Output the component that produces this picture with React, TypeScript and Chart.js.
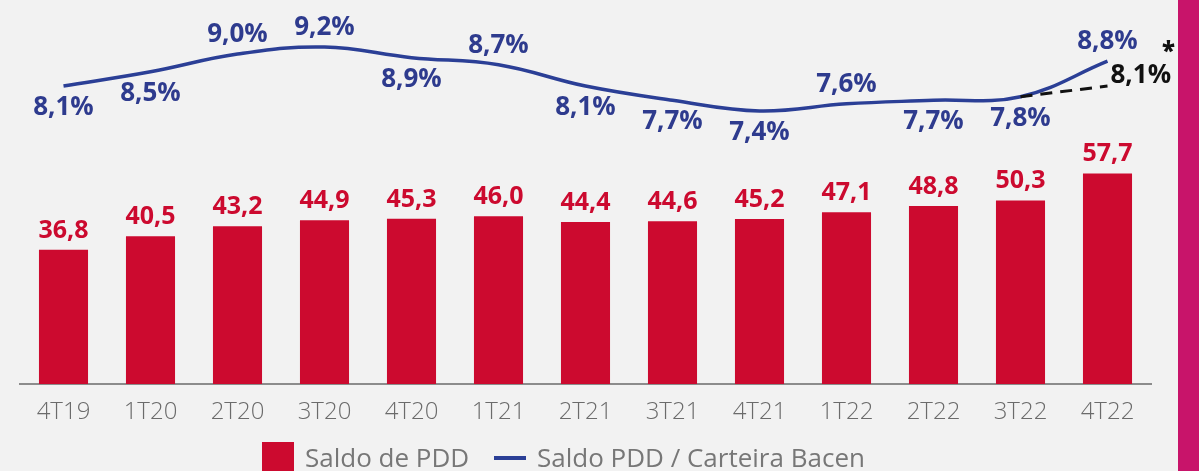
import React, { useEffect, useRef } from 'react';
import { Chart, registerables } from 'chart.js';

Chart.register(...registerables);

const categories = ['4T19', '1T20', '2T20', '3T20', '4T20', '1T21', '2T21', '3T21', '4T21', '1T22', '2T22', '3T22', '4T22'];
const saldoPDD = [36.8, 40.5, 43.2, 44.9, 45.3, 46.0, 44.4, 44.6, 45.2, 47.1, 48.8, 50.3, 57.7];
const ratioPDD = [8.1, 8.5, 9.0, 9.2, 8.9, 8.7, 8.1, 7.7, 7.4, 7.6, 7.7, 7.8, 8.8];
const ratioAdjusted = [null, null, null, null, null, null, null, null, null, null, null, 7.8, 8.1];
const ratioLabelSide = ['below', 'below', 'above', 'above', 'below', 'above', 'below', 'below', 'below', 'above', 'below', 'below', 'above'];
const legendLabels = ['Saldo de PDD', 'Saldo PDD / Carteira Bacen'];
const adjustedNote = '*';

const RED = '#cc0a2f';
const BLUE = '#2b3f96';
const BLUE_TEXT = '#2e3b8e';
const GRAY_TEXT = '#6b6b6b';
const BG = '#f2f2f2';
const MAGENTA = '#c8146a';

const fmt = (v: number) => v.toFixed(1).replace('.', ',');

const labelsPlugin = {
  id: 'customLabels',
  afterDatasetsDraw(chart: any) {
    const ctx = chart.ctx;
    ctx.save();
    const barMeta = chart.getDatasetMeta(0);
    ctx.font = '700 25px "Open Sans"';
    ctx.fillStyle = RED;
    ctx.textAlign = 'center';
    ctx.textBaseline = 'alphabetic';
    barMeta.data.forEach((el: any, i: number) => {
      ctx.fillText(fmt(saldoPDD[i]), el.x, el.y - 12);
    });
    const lineMeta = chart.getDatasetMeta(1);
    ctx.font = '700 26px "Open Sans"';
    ctx.fillStyle = BLUE_TEXT;
    lineMeta.data.forEach((el: any, i: number) => {
      const dy = ratioLabelSide[i] === 'above' ? -12 : 29;
      ctx.fillText(fmt(ratioPDD[i]) + '%', el.x, el.y + dy);
    });
    const adjMeta = chart.getDatasetMeta(2);
    const last = adjMeta.data[adjMeta.data.length - 1];
    const lastVal = ratioAdjusted[ratioAdjusted.length - 1] as number;
    ctx.fillStyle = '#111111';
    ctx.textAlign = 'left';
    ctx.fillText(fmt(lastVal) + '%', last.x + 3, last.y - 3);
    ctx.font = '800 24px "Open Sans"';
    ctx.textAlign = 'center';
    ctx.fillText(adjustedNote, last.x + 61, last.y - 27);
    ctx.restore();
  },
  afterDraw(chart: any) {
    const ctx = chart.ctx;
    ctx.save();
    ctx.fillStyle = RED;
    ctx.fillRect(262, 442, 32, 40);
    ctx.font = '400 26px "Open Sans"';
    ctx.fillStyle = '#777777';
    ctx.textAlign = 'left';
    ctx.textBaseline = 'alphabetic';
    ctx.fillText(legendLabels[0], 305, 467);
    ctx.strokeStyle = BLUE;
    ctx.lineWidth = 4;
    ctx.beginPath();
    ctx.moveTo(494, 458);
    ctx.lineTo(526, 458);
    ctx.stroke();
    ctx.fillText(legendLabels[1], 537, 467);
    ctx.restore();
  },
};

export default function App() {
  const ref = useRef<HTMLCanvasElement>(null);
  useEffect(() => {
    if (!ref.current) return;
    const chart = new Chart(ref.current, {
      type: 'bar',
      data: {
        labels: categories,
        datasets: [
          {
            type: 'bar',
            data: saldoPDD,
            backgroundColor: RED,
            yAxisID: 'y',
            order: 2,
            barPercentage: 0.564,
            categoryPercentage: 1,
          },
          {
            type: 'line',
            data: ratioPDD,
            borderColor: BLUE,
            borderWidth: 3.5,
            pointRadius: 0,
            tension: 0.4,
            yAxisID: 'y2',
            order: 1,
          },
          {
            type: 'line',
            data: ratioAdjusted,
            borderColor: '#111111',
            borderDash: [12, 8],
            borderWidth: 3,
            pointRadius: 0,
            tension: 0,
            yAxisID: 'y2',
            order: 0,
          },
        ] as any,
      },
      options: {
        responsive: false,
        animation: false,
        devicePixelRatio: 1,
        layout: { padding: { top: 10, left: 20, right: 27, bottom: 0 } },
        plugins: { legend: { display: false }, tooltip: { enabled: false } },
        scales: {
          x: {
            grid: { display: false, drawTicks: false },
            border: { display: true, color: '#8c8c8c', width: 2 },
            ticks: { color: GRAY_TEXT, font: { family: 'Open Sans', size: 24, weight: '300' }, padding: 14 },
            afterFit(s: any) { s.height = 87; },
          },
          y: { display: false, min: 0, max: 102.5 },
          y2: { display: false, min: -0.293, max: 10.242 },
        },
      } as any,
      plugins: [labelsPlugin],
    });
    return () => chart.destroy();
  }, []);
  return (
    <div style={{ position: 'absolute', left: 0, top: 0, width: 1199, height: 471, background: BG, overflow: 'hidden' }}>
      <canvas ref={ref} width={1178} height={471} style={{ position: 'absolute', left: 0, top: 0, width: 1178, height: 471 }} />
      <div style={{ position: 'absolute', left: 1178, top: 0, width: 21, height: 471, background: MAGENTA }} />
    </div>
  );
}
